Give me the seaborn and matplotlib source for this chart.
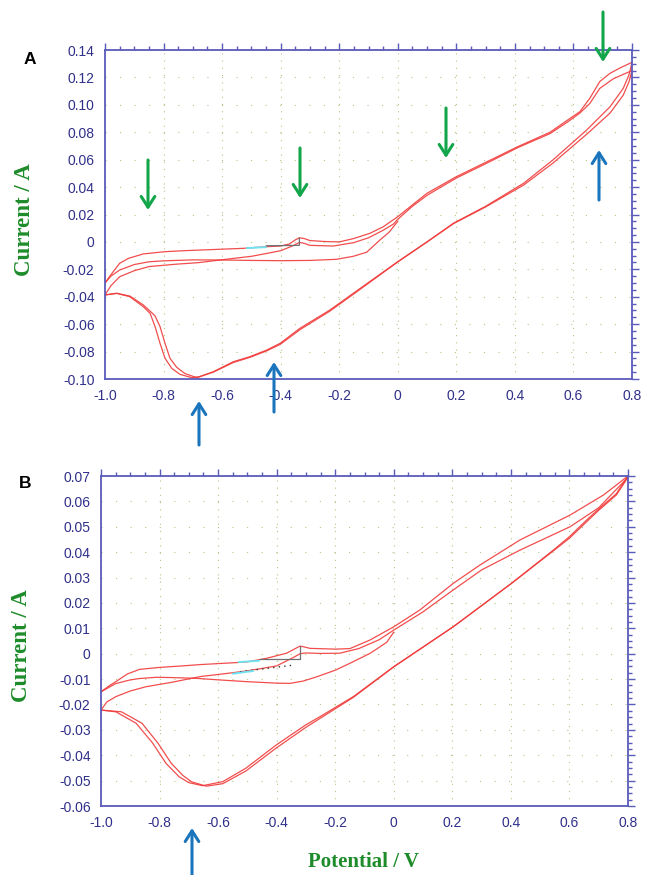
import numpy as np
import pandas as pd
import matplotlib
matplotlib.use("Agg")
import matplotlib.pyplot as plt
import seaborn as sns
from matplotlib.ticker import MultipleLocator

# ---------------- data ----------------
# Panel A : potential (V) / current (A)
A_init_V = [0.0, -0.03, -0.061, -0.106, -0.152, -0.21, -0.30, -0.40, -0.50, -0.60, -0.70, -0.80, -0.85, -0.90, -0.95, -0.98, -1.0]
A_init_I = [0.015, 0.007, 0.0014, -0.0075, -0.0105, -0.0127, -0.0135, -0.0137, -0.0135, -0.0132, -0.0131, -0.0138, -0.0145, -0.0165, -0.0205, -0.025, -0.030]

A_an1_V = [-1.0, -0.98, -0.95, -0.92, -0.87, -0.80, -0.73, -0.60, -0.53, -0.45, -0.40, -0.37, -0.35, -0.336, -0.32, -0.30, -0.25, -0.20, -0.15, -0.095, -0.05, 0.0, 0.05, 0.10, 0.20, 0.30, 0.41, 0.52, 0.58, 0.622, 0.656, 0.69, 0.725, 0.76, 0.80]
A_an1_I = [-0.030, -0.024, -0.0156, -0.012, -0.0088, -0.0072, -0.0064, -0.0053, -0.0047, -0.0035, -0.003, -0.0015, 0.0015, 0.003, 0.0025, 0.001, 0.0003, 0.0, 0.0025, 0.0063, 0.011, 0.0184, 0.027, 0.0355, 0.0476, 0.058, 0.0695, 0.0800, 0.0889, 0.095, 0.1048, 0.117, 0.123, 0.127, 0.131]

A_ca1_V = [0.80, 0.79, 0.77, 0.725, 0.645, 0.53, 0.43, 0.30, 0.19, 0.10, 0.0, -0.152, -0.232, -0.334, -0.402, -0.448, -0.505, -0.562, -0.63, -0.676, -0.704, -0.744, -0.772, -0.795, -0.812, -0.829, -0.846, -0.869, -0.915, -0.96, -1.0]
A_ca1_I = [0.131, 0.122, 0.112, 0.0986, 0.0816, 0.0598, 0.0428, 0.026, 0.0136, 0.0, -0.0144, -0.0375, -0.0497, -0.063, -0.074, -0.0789, -0.0837, -0.0874, -0.0947, -0.0983, -0.099, -0.0966, -0.0922, -0.0849, -0.074, -0.0618, -0.0521, -0.0473, -0.040, -0.0375, -0.0387]

A_an2_V = [-1.0, -0.98, -0.95, -0.90, -0.85, -0.76, -0.68, -0.60, -0.50, -0.45, -0.40, -0.36, -0.336, -0.32, -0.30, -0.22, -0.15, -0.10, -0.05, -0.015, 0.0, 0.05, 0.10, 0.20, 0.30, 0.41, 0.52, 0.58, 0.622, 0.656, 0.69, 0.736, 0.80]
A_an2_I = [-0.0387, -0.032, -0.0254, -0.021, -0.018, -0.0163, -0.0151, -0.013, -0.0105, -0.0085, -0.0064, -0.003, -0.0004, -0.001, -0.0025, -0.003, -0.0005, 0.003, 0.0085, 0.013, 0.0165, 0.026, 0.034, 0.0466, 0.057, 0.0688, 0.079, 0.0875, 0.094, 0.101, 0.112, 0.119, 0.125]

A_ca2_V = [0.80, 0.79, 0.77, 0.725, 0.645, 0.53, 0.43, 0.30, 0.19, 0.10, 0.0, -0.152, -0.232, -0.334, -0.402, -0.448, -0.505, -0.562, -0.63, -0.687, -0.727, -0.755, -0.778, -0.795, -0.812, -0.829, -0.846, -0.869, -0.915, -0.96, -1.0]
A_ca2_I = [0.125, 0.117, 0.107, 0.094, 0.0785, 0.0575, 0.0415, 0.0255, 0.0133, 0.0, -0.0146, -0.0382, -0.0505, -0.064, -0.0748, -0.0795, -0.0842, -0.088, -0.095, -0.099, -0.096, -0.0915, -0.0849, -0.074, -0.0618, -0.054, -0.0505, -0.046, -0.0395, -0.0375, -0.0387]

A_base_V = [-0.45, -0.336, -0.336]
A_base_I = [-0.0028, -0.0025, 0.003]
A_cyan_V = [-0.516, -0.45]
A_cyan_I = [-0.0045, -0.0038]

# Panel B
B_init_V = [0.0, -0.024, -0.08, -0.15, -0.20, -0.263, -0.31, -0.355, -0.40, -0.505, -0.60, -0.676, -0.76, -0.812, -0.87, -0.903, -0.95, -1.0]
B_init_I = [0.0085, 0.0045, 0.0002, -0.0038, -0.0065, -0.0091, -0.0108, -0.0117, -0.0116, -0.011, -0.0103, -0.0097, -0.0094, -0.0093, -0.0098, -0.0104, -0.0118, -0.015]

B_an1_V = [-1.0, -0.97, -0.949, -0.91, -0.869, -0.80, -0.733, -0.662, -0.505, -0.434, -0.366, -0.34, -0.32, -0.30, -0.286, -0.20, -0.15, -0.081, 0.0, 0.089, 0.203, 0.294, 0.431, 0.602, 0.716, 0.80]
B_an1_I = [-0.015, -0.0125, -0.011, -0.008, -0.0062, -0.0054, -0.0049, -0.0043, -0.0033, -0.0018, 0.0002, 0.0018, 0.003, 0.0025, 0.0021, 0.0018, 0.002, 0.0054, 0.0106, 0.0172, 0.0277, 0.0349, 0.0448, 0.0546, 0.0625, 0.070]

B_ca1_V = [0.80, 0.76, 0.70, 0.659, 0.60, 0.545, 0.402, 0.203, 0.0, -0.138, -0.252, -0.30, -0.402, -0.505, -0.584, -0.653, -0.70, -0.733, -0.778, -0.823, -0.88, -0.949, -1.0]
B_ca1_I = [0.070, 0.063, 0.057, 0.0527, 0.0461, 0.0408, 0.0277, 0.0106, -0.0051, -0.0169, -0.0248, -0.028, -0.036, -0.0451, -0.0504, -0.052, -0.0508, -0.0485, -0.0432, -0.0353, -0.0274, -0.0229, -0.0222]

B_an2_V = [-1.0, -0.98, -0.949, -0.90, -0.846, -0.76, -0.66, -0.55, -0.505, -0.45, -0.40, -0.343, -0.32, -0.30, -0.25, -0.184, -0.12, -0.05, 0.0, 0.10, 0.203, 0.30, 0.431, 0.602, 0.70, 0.80]
B_an2_I = [-0.0222, -0.019, -0.0169, -0.0147, -0.013, -0.0113, -0.009, -0.0075, -0.0068, -0.0058, -0.0048, -0.0015, 0.0, 0.0003, 0.0001, 0.0002, 0.002, 0.0055, 0.0093, 0.0165, 0.0251, 0.033, 0.0408, 0.050, 0.0575, 0.0695]

B_ca2_V = [0.80, 0.76, 0.70, 0.659, 0.60, 0.545, 0.402, 0.203, 0.0, -0.138, -0.252, -0.30, -0.402, -0.505, -0.584, -0.64, -0.69, -0.72, -0.76, -0.805, -0.86, -0.93, -1.0]
B_ca2_I = [0.0695, 0.0625, 0.0565, 0.052, 0.0455, 0.0405, 0.0277, 0.0106, -0.0052, -0.0172, -0.0255, -0.029, -0.0372, -0.0462, -0.0512, -0.0522, -0.0505, -0.048, -0.0432, -0.0353, -0.0274, -0.0229, -0.0222]

B_base_V = [-0.457, -0.32, -0.32]
B_base_I = [-0.0022, -0.0022, 0.003]
B_dot_V = [-0.525, -0.343]
B_dot_I = [-0.0071, -0.0045]
B_cyan1_V = [-0.53, -0.46]
B_cyan1_I = [-0.0033, -0.0028]
B_cyan2_V = [-0.55, -0.48]
B_cyan2_I = [-0.0079, -0.0068]

# ticks
x_ticks = [-1.0, -0.8, -0.6, -0.4, -0.2, 0.0, 0.2, 0.4, 0.6, 0.8]
x_tick_labels = ["-1.0", "-0.8", "-0.6", "-0.4", "-0.2", "0", "0.2", "0.4", "0.6", "0.8"]
A_y_ticks = [-0.10, -0.08, -0.06, -0.04, -0.02, 0.0, 0.02, 0.04, 0.06, 0.08, 0.10, 0.12, 0.14]
A_y_tick_labels = ["-0.10", "-0.08", "-0.06", "-0.04", "-0.02", "0", "0.02", "0.04", "0.06", "0.08", "0.10", "0.12", "0.14"]
B_y_ticks = [-0.06, -0.05, -0.04, -0.03, -0.02, -0.01, 0.0, 0.01, 0.02, 0.03, 0.04, 0.05, 0.06, 0.07]
B_y_tick_labels = ["-0.06", "-0.05", "-0.04", "-0.03", "-0.02", "-0.01", "0", "0.01", "0.02", "0.03", "0.04", "0.05", "0.06", "0.07"]

# ---------------- build tables ----------------
def table(segs):
    rows = []
    for name, vs, cs in segs:
        for k, (v, c) in enumerate(zip(vs, cs)):
            rows.append((name, k, v, c))
    return pd.DataFrame(rows, columns=["seg", "k", "V", "I"])

dfA = table([("init", A_init_V, A_init_I), ("an1", A_an1_V, A_an1_I), ("ca1", A_ca1_V, A_ca1_I),
             ("an2", A_an2_V, A_an2_I), ("ca2", A_ca2_V, A_ca2_I)])
dfB = table([("init", B_init_V, B_init_I), ("an1", B_an1_V, B_an1_I), ("ca1", B_ca1_V, B_ca1_I),
             ("an2", B_an2_V, B_an2_I), ("ca2", B_ca2_V, B_ca2_I)])

# ---------------- style ----------------
sns.set_style("white")
plt.rcParams["font.family"] = ["Liberation Sans", "DejaVu Sans"]

W, H = 649, 875
fig = plt.figure(figsize=(W / 100, H / 100), dpi=100)
axA = fig.add_axes([105 / W, 1 - 379 / H, 527 / W, 329 / H])
axB = fig.add_axes([101 / W, 1 - 806 / H, 527 / W, 330 / H])

SPINE = "#5b5bbb"
TICKLAB = "#30308a"
GRID = "#b3c787"
RED = "#f03a3a"
GREEN_LAB = "#1e8c2a"
GREEN_ARR = "#12a54a"
BLUE_ARR = "#1b75bc"

def style_axis(ax, yticks, ylabels, ylim, yminor):
    ax.set_xlim(-1.0, 0.8)
    ax.set_ylim(*ylim)
    ax.set_xticks(x_ticks)
    ax.set_xticklabels(x_tick_labels)
    ax.set_yticks(yticks)
    ax.set_yticklabels(ylabels)
    ax.xaxis.set_minor_locator(MultipleLocator(0.05))
    ax.yaxis.set_minor_locator(MultipleLocator(yminor))
    ax.tick_params(which="both", direction="out", top=True, right=True,
                   labeltop=False, labelright=False, color=SPINE, width=1.0)
    ax.tick_params(which="major", length=5, labelsize=10, labelcolor=TICKLAB, pad=2.5)
    ax.tick_params(which="minor", length=3)
    for s in ax.spines.values():
        s.set_color(SPINE)
        s.set_linewidth(1.3)
    ax.set_xlabel("")
    ax.set_ylabel("")
    ax.xaxis.grid(True, which="major", linestyle=(0, (1, 5.5)), lw=0.8, color=GRID)
    ax.yaxis.grid(True, which="major", linestyle=(0, (1, 12.1)), lw=0.8, color=GRID)
    ax.set_axisbelow(True)

for ax, df in ((axA, dfA), (axB, dfB)):
    sns.lineplot(data=df, x="V", y="I", units="seg", estimator=None, sort=False,
                 color=RED, lw=0.9, alpha=0.9, ax=ax, legend=False)

# baseline marks drawn by the instrument software
sns.lineplot(x=A_base_V, y=A_base_I, sort=False, estimator=None, color="#707070", lw=0.9, ax=axA)
sns.lineplot(x=A_cyan_V, y=A_cyan_I, sort=False, estimator=None, color="#6fe3f0", lw=1.4, ax=axA)
sns.lineplot(x=B_base_V, y=B_base_I, sort=False, estimator=None, color="#707070", lw=0.9, ax=axB)
sns.lineplot(x=B_dot_V, y=B_dot_I, sort=False, estimator=None, color="#333333", lw=1.0, ls=(0, (1, 3)), ax=axB)
sns.lineplot(x=B_cyan1_V, y=B_cyan1_I, sort=False, estimator=None, color="#6fe3f0", lw=1.4, ax=axB)
sns.lineplot(x=B_cyan2_V, y=B_cyan2_I, sort=False, estimator=None, color="#6fe3f0", lw=1.4, ax=axB)

style_axis(axA, A_y_ticks, A_y_tick_labels, (-0.10, 0.14), 0.005)
style_axis(axB, B_y_ticks, B_y_tick_labels, (-0.06, 0.07), 0.0025)

# labels
fig.text(30 / W, 1 - 60 / H, "A", fontsize=12.5, fontweight="bold", color="black", ha="center", va="center")
fig.text(25 / W, 1 - 483 / H, "B", fontsize=12.5, fontweight="bold", color="black", ha="center", va="center")
serif = ["Liberation Serif", "DejaVu Serif"]
fig.text(25 / W, 1 - 220 / H, "Current / A", rotation=90, ha="center", va="center",
         family=serif, fontsize=16.5, fontweight="bold", color=GREEN_LAB)
fig.text(22 / W, 1 - 646 / H, "Current / A", rotation=90, ha="center", va="center",
         family=serif, fontsize=16.5, fontweight="bold", color=GREEN_LAB)
fig.text(364 / W, 1 - 862 / H, "Potential / V", ha="center", va="center",
         family=serif, fontsize=15, fontweight="bold", color=GREEN_LAB)

# arrows (figure pixel positions: x, tail y, tip y from top)
arrows = [
    (148, 160, 210, GREEN_ARR), (300, 148, 198, GREEN_ARR), (446, 108, 158, GREEN_ARR), (603, 12, 62, GREEN_ARR),
    (199, 445, 401, BLUE_ARR), (274, 412, 362, BLUE_ARR), (599, 200, 150, BLUE_ARR),
    (141, 587, 637, GREEN_ARR), (293, 573, 624, GREEN_ARR), (478, 489, 540, GREEN_ARR),
    (192, 878, 828, BLUE_ARR), (574, 606, 556, BLUE_ARR),
]
for x, yt, yp, c in arrows:
    axA.annotate("", xy=(x, H - yp), xytext=(x, H - yt), xycoords="figure pixels",
                 textcoords="figure pixels", annotation_clip=False,
                 arrowprops=dict(arrowstyle="->,head_length=0.55,head_width=0.35", lw=2.2,
                                 color=c, shrinkA=0, shrinkB=0, mutation_scale=14))

fig.savefig("out.png", dpi=100)
